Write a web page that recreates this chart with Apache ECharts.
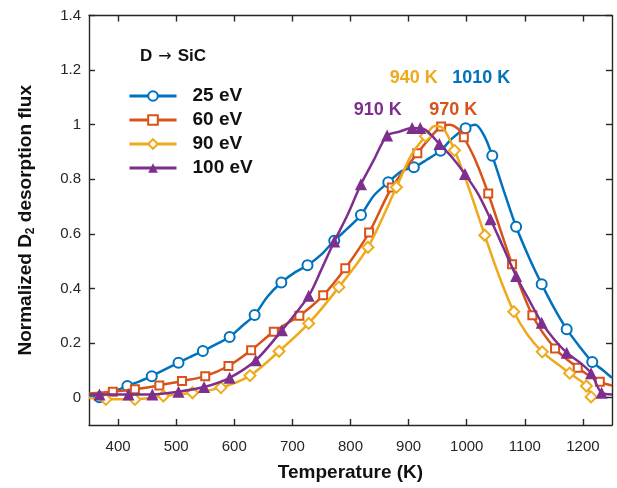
<!DOCTYPE html>
<html>
<head>
<meta charset="utf-8">
<script src="https://cdn.jsdelivr.net/npm/echarts@6/dist/echarts.min.js"></script>
<style>
html,body{margin:0;padding:0;background:#fff;}
#chart{width:617px;height:488px;}
</style>
</head>
<body>
<div id="chart"></div>
<script>
// ---------- DATA ----------
const seriesNames = ['25 eV', '60 eV', '90 eV', '100 eV'];
const xTicks = [400, 500, 600, 700, 800, 900, 1000, 1100, 1200];
const yTicks = [0, 0.2, 0.4, 0.6, 0.8, 1, 1.2, 1.4];

// continuous desorption traces [T (K), normalized flux]
const curve25 = [[350,0.005],[368,0.003],[390,0.02],[416,0.043],[437,0.06],[458,0.079],[480,0.103],[504,0.128],[525,0.15],[546,0.171],[570,0.197],[592,0.222],[612,0.26],[635,0.303],[657,0.37],[681,0.422],[705,0.46],[726,0.485],[750,0.525],[772,0.575],[795,0.62],[818,0.669],[840,0.74],[865,0.789],[888,0.83],[909,0.844],[930,0.87],[955,0.905],[975,0.95],[998,0.987],[1015,1.0],[1030,0.96],[1044,0.886],[1065,0.75],[1085,0.626],[1108,0.51],[1129,0.416],[1150,0.33],[1172,0.251],[1195,0.185],[1216,0.131],[1235,0.1],[1250,0.073]];
const curve60 = [[350,0.015],[391,0.022],[429,0.031],[471,0.045],[510,0.061],[550,0.079],[590,0.116],[629,0.174],[668,0.242],[712,0.3],[753,0.375],[791,0.474],[832,0.605],[871,0.77],[915,0.895],[940,0.96],[956,0.993],[970,1.0],[985,0.985],[995,0.954],[1015,0.87],[1037,0.748],[1078,0.489],[1113,0.302],[1152,0.18],[1191,0.11],[1229,0.058],[1250,0.045]];
const curve90 = [[350,0.0],[379,-0.006],[429,-0.006],[478,0.006],[528,0.018],[577,0.037],[627,0.081],[677,0.17],[728,0.272],[780,0.405],[830,0.551],[879,0.771],[905,0.89],[929,0.958],[945,0.995],[960,0.985],[979,0.906],[1005,0.76],[1031,0.595],[1055,0.45],[1081,0.315],[1105,0.23],[1130,0.168],[1155,0.125],[1177,0.09],[1200,0.055],[1208,0.035],[1215,0.0]];
const curve100 = [[350,0.012],[368,0.012],[418,0.012],[459,0.012],[504,0.022],[548,0.039],[592,0.073],[637,0.137],[682,0.247],[728,0.373],[750,0.47],[772,0.572],[795,0.67],[818,0.782],[840,0.87],[863,0.96],[885,0.975],[906,0.988],[925,0.985],[940,0.96],[953,0.929],[975,0.88],[997,0.819],[1020,0.745],[1041,0.654],[1063,0.55],[1085,0.446],[1108,0.355],[1129,0.275],[1150,0.215],[1172,0.165],[1194,0.13],[1214,0.09],[1232,0.018],[1250,0.012]];

// marker positions on each trace
const marks25 = [[368,0.002],[416,0.043],[458,0.079],[504,0.128],[546,0.171],[592,0.222],[635,0.303],[681,0.422],[726,0.485],[772,0.575],[818,0.669],[865,0.789],[909,0.844],[955,0.905],[998,0.987],[1044,0.886],[1085,0.626],[1129,0.416],[1172,0.251],[1216,0.131]];
const marks60 = [[391,0.022],[429,0.031],[471,0.045],[510,0.061],[550,0.079],[590,0.116],[629,0.174],[668,0.242],[712,0.3],[753,0.375],[791,0.474],[832,0.605],[871,0.77],[915,0.895],[956,0.993],[995,0.954],[1037,0.748],[1078,0.489],[1113,0.302],[1152,0.18],[1191,0.11],[1229,0.058]];
const marks90 = [[379,-0.006],[429,-0.006],[478,0.006],[528,0.018],[577,0.037],[627,0.081],[677,0.17],[728,0.272],[780,0.405],[830,0.551],[879,0.771],[929,0.958],[979,0.906],[1031,0.595],[1081,0.315],[1130,0.168],[1177,0.09],[1206,0.043],[1214,0.003]];
const marks100 = [[368,0.012],[418,0.012],[459,0.012],[504,0.022],[548,0.039],[592,0.073],[637,0.137],[682,0.247],[728,0.373],[772,0.572],[818,0.782],[863,0.96],[906,0.988],[920,0.988],[953,0.929],[997,0.819],[1041,0.654],[1085,0.446],[1129,0.275],[1172,0.165],[1214,0.09],[1232,0.018]];

// peak annotations
const peakText = ['1010 K', '970 K', '940 K', '910 K'];
const peakT = [1025, 977, 909, 847];
const peakV = [1.172, 1.053, 1.172, 1.053];

// ---------- STYLE ----------
const colors = ['#0072BD', '#D95319', '#EFAA1C', '#7E2F8E'];
const symbols = ['emptyCircle', 'emptyRect', 'emptyDiamond', 'triangle'];
const symbolSizes = [10, 8, 11, 12];
const curves = [curve25, curve60, curve90, curve100];
const marks = [marks25, marks60, marks90, marks100];
const FONT = 'Liberation Sans, Arial, sans-serif';
const AX = '#262626';

const series = [];
for (let i = 0; i < 4; i++) {
  series.push({
    name: seriesNames[i], type: 'line', data: curves[i],
    smooth: 0.3, showSymbol: false, symbol: symbols[i], symbolSize: symbolSizes[i],
    lineStyle: { color: colors[i], width: 2.5 }, itemStyle: { color: colors[i] },
    z: 2 + i * 2, clip: true, animation: false
  });
  series.push({
    name: seriesNames[i], type: 'scatter', data: marks[i],
    symbol: symbols[i], symbolSize: symbolSizes[i],
    itemStyle: { color: colors[i], borderWidth: 1.6, opacity: 1 },
    z: 3 + i * 2, animation: false
  });
}
series.push({
  type: 'scatter', symbol: 'circle', symbolSize: 1, z: 20, animation: false, silent: true,
  itemStyle: { color: 'rgba(0,0,0,0)', opacity: 1 },
  data: peakText.map((t, i) => ({
    value: [peakT[i], peakV[i]],
    label: { show: true, position: 'inside', formatter: t, color: colors[i],
             fontFamily: FONT, fontWeight: 'bold', fontSize: 18 }
  }))
});

const axisCommon = {
  axisLine: { show: true, onZero: false, lineStyle: { color: AX, width: 1.4 } },
  splitLine: { show: false }
};

const option = {
  backgroundColor: '#fff',
  animation: false,
  grid: { left: 89, right: 5, top: 15.5, bottom: 63, containLabel: false },
  legend: {
    data: seriesNames, orient: 'vertical', left: 128, top: 86, padding: 0,
    itemWidth: 47, itemHeight: 12, itemGap: 4,
    lineStyle: { width: 3 },
    textStyle: { fontFamily: FONT, fontWeight: 'bold', fontSize: 19, color: '#111', lineHeight: 20, padding: [0, 0, 0, 11] },
    selectedMode: false
  },
  graphic: [{
    type: 'text', left: 140, top: 48,
    style: {
      text: '{b|D}{a|→}{b|SiC}',
      rich: {
        b: { fontFamily: FONT, fontWeight: 'bold', fontSize: 17, fill: '#111' },
        a: { fontFamily: 'DejaVu Sans, sans-serif', fontSize: 16, fill: '#111', padding: [0, 6, 0, 6] }
      }
    }
  }],
  xAxis: [
    Object.assign({}, axisCommon, {
      type: 'value', min: 350, max: 1250, position: 'bottom',
      axisTick: { show: true, inside: true, length: 6, customValues: xTicks, lineStyle: { color: AX, width: 1.4 } },
      axisLabel: { customValues: xTicks, formatter: v => String(v), fontFamily: FONT, fontSize: 15, color: AX, margin: 14 },
      name: 'Temperature (K)', nameLocation: 'middle', nameGap: 38,
      nameTextStyle: { fontFamily: FONT, fontWeight: 'bold', fontSize: 19, color: '#111' }
    }),
    Object.assign({}, axisCommon, {
      type: 'value', min: 350, max: 1250, position: 'top',
      axisTick: { show: true, inside: true, length: 6, customValues: xTicks, lineStyle: { color: AX, width: 1.4 } },
      axisLabel: { show: false }
    })
  ],
  yAxis: [
    Object.assign({}, axisCommon, {
      type: 'value', min: -0.1, max: 1.4, position: 'left',
      axisTick: { show: true, inside: true, length: 6, customValues: yTicks, lineStyle: { color: AX, width: 1.4 } },
      axisLabel: { customValues: yTicks, formatter: v => String(+v.toFixed(1)), fontFamily: FONT, fontSize: 15, color: AX, margin: 8 },
      name: 'Normalized D{s|2} desorption flux', nameLocation: 'middle', nameGap: 52,
      nameTextStyle: { fontFamily: FONT, fontWeight: 'bold', fontSize: 19, color: '#111',
        rich: { s: { fontFamily: FONT, fontWeight: 'bold', fontSize: 12, verticalAlign: 'bottom', padding: [10, 0, 0, 0] } } }
    }),
    Object.assign({}, axisCommon, {
      type: 'value', min: -0.1, max: 1.4, position: 'right',
      axisTick: { show: true, inside: true, length: 6, customValues: yTicks, lineStyle: { color: AX, width: 1.4 } },
      axisLabel: { show: false }
    })
  ],
  series: series
};

const chart = echarts.init(document.getElementById('chart'), null, { renderer: 'canvas' });
chart.setOption(option);
</script>
</body>
</html>
